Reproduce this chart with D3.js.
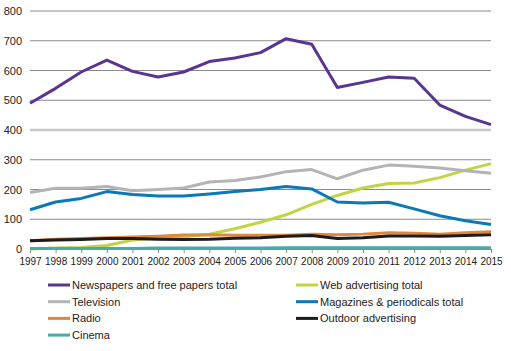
<!DOCTYPE html>
<html>
<head>
<meta charset="utf-8">
<script src="https://cdn.jsdelivr.net/npm/d3@7"></script>
<style>
  body { margin: 0; background: #fff; }
  svg { font-family: "Liberation Sans", Arial, sans-serif; }
</style>
</head>
<body>
<div id="chart"></div>
<script>
// years along the x axis
var years = d3.range(1997, 2016);

var newspapers = [490, 540, 595, 635, 597, 578, 595, 630, 642, 660, 707, 688, 543, 560, 578, 574, 484, 446, 418];
var webAds     = [0, 3, 5, 12, 30, 37, 40, 50, 68, 90, 115, 150, 180, 205, 220, 222, 240, 265, 287];
var television = [190, 204, 204, 210, 196, 200, 205, 225, 230, 242, 260, 267, 236, 265, 282, 278, 272, 263, 255];
var magazines  = [132, 158, 170, 193, 183, 178, 178, 185, 193, 200, 210, 202, 158, 155, 157, 135, 112, 95, 82];
var radio      = [28, 33, 35, 38, 40, 43, 47, 48, 46, 46, 46, 50, 48, 50, 55, 53, 50, 55, 58];
var outdoor    = [28, 30, 32, 35, 35, 33, 32, 33, 36, 38, 43, 45, 35, 38, 44, 44, 43, 45, 48];
var cinema     = [2, 2, 2, 2, 2, 3, 3, 3, 3, 3, 4, 4, 4, 4, 4, 4, 4, 4, 4];

var seriesNames = ["Newspapers and free papers total", "Web advertising total", "Television",
  "Magazines & periodicals total", "Radio", "Outdoor advertising", "Cinema"];
var seriesValues = [newspapers, webAds, television, magazines, radio, outdoor, cinema];
var seriesColours = ["#5a3590", "#c2d444", "#b4b4b6", "#0b78b7", "#e0873a", "#1c1c1c", "#4fa8a5"];

var yTicks = [0, 100, 200, 300, 400, 500, 600, 700, 800];

var width = 511, height = 351;
var margin = {top: 11, right: 20, bottom: 102, left: 30};
var plotW = 491 - margin.left;
var plotH = 249 - margin.top;

var svg = d3.select("#chart").append("svg")
    .attr("width", width)
    .attr("height", height);

var g = svg.append("g")
    .attr("transform", "translate(" + margin.left + "," + margin.top + ")");

var x = d3.scalePoint().domain(years).range([0, plotW]);
var y = d3.scaleLinear().domain([0, 800]).range([plotH, 0]);

// gridlines - 400 line is drawn lighter and thicker like the original
g.selectAll(".grid")
  .data(yTicks.filter(function(d) { return d > 0; }))
  .enter().append("line")
    .attr("x1", 0).attr("x2", plotW)
    .attr("y1", function(d) { return y(d); })
    .attr("y2", function(d) { return y(d); })
    .attr("stroke", function(d) { return d == 400 ? "#c8c8c8" : "#8a8a8a"; })
    .attr("stroke-width", function(d) { return d == 400 ? 2.5 : 1; });

// y axis labels
var yAxis = d3.axisLeft(y).tickValues(yTicks).tickSize(0).tickPadding(8);
var yg = g.append("g").call(yAxis);
yg.select(".domain").remove();
yg.selectAll("text").attr("font-size", "11px").attr("fill", "#222")
  .attr("font-family", "Liberation Sans, Arial, sans-serif");

// x axis
var xAxis = d3.axisBottom(x).tickSize(4).tickPadding(5);
var xg = g.append("g").attr("transform", "translate(0," + plotH + ")").call(xAxis);
xg.select(".domain").attr("stroke", "#8a8a8a");
xg.selectAll(".tick line").attr("stroke", "#8a8a8a");
xg.selectAll("text").attr("font-size", "10px").attr("fill", "#222")
  .attr("font-family", "Liberation Sans, Arial, sans-serif");

var line = d3.line()
  .x(function(d, i) { return x(years[i]); })
  .y(function(d) { return y(d); });

// draw lines
for (var i = 0; i < seriesValues.length; i++) {
  g.append("path")
    .datum(seriesValues[i])
    .attr("fill", "none")
    .attr("stroke", seriesColours[i])
    .attr("stroke-width", 3)
    .attr("stroke-linejoin", "round")
    .attr("d", line);
}

// legend, two columns filled row by row
var legend = svg.append("g").attr("transform", "translate(48,285)");
for (var j = 0; j < seriesNames.length; j++) {
  var col = j % 2, row = Math.floor(j / 2);
  var item = legend.append("g")
    .attr("transform", "translate(" + (col * 248) + "," + (row * 16.7) + ")");
  item.append("line")
    .attr("x1", 0).attr("x2", 22)
    .attr("y1", 0).attr("y2", 0)
    .attr("stroke", seriesColours[j])
    .attr("stroke-width", 3);
  item.append("text")
    .attr("x", 24).attr("y", 4)
    .attr("font-size", "11px")
    .attr("fill", "#222")
    .text(seriesNames[j]);
}
</script>
</body>
</html>
